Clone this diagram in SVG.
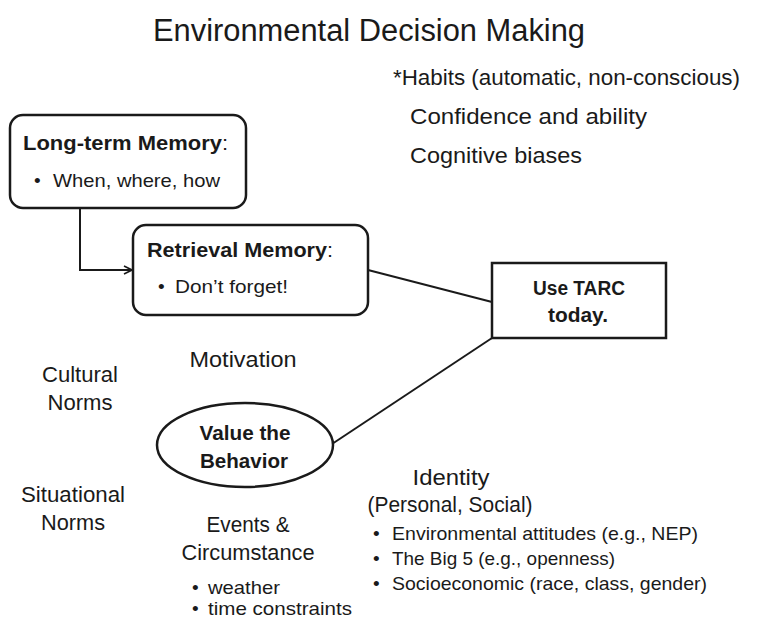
<svg xmlns="http://www.w3.org/2000/svg" width="774" height="621" viewBox="0 0 774 621">
  <defs>
    <marker id="arrow" viewBox="0 0 10 10" refX="9" refY="5" markerWidth="10" markerHeight="10" markerUnits="userSpaceOnUse" orient="auto">
      <path d="M1,1 L9,5 L1,9" fill="none" stroke="#1a1a1a" stroke-width="1.6"/>
    </marker>
  </defs>
  <style>
    text { font-family: "Liberation Sans", Arial, sans-serif; fill: #1a1a1a; }
    .title { font-size: 31px; }
    .note { font-size: 22px; }
    .label { font-size: 22px; }
    .head { font-size: 20px; font-weight: bold; }
    .bullet { font-size: 19px; }
    .strong { font-size: 20px; font-weight: bold; }
    .box { fill: #ffffff; stroke: #1a1a1a; stroke-width: 2.5; }
    .link { fill: none; stroke: #1a1a1a; stroke-width: 2; }
  </style>
  <rect width="774" height="621" fill="#ffffff"/>

  <text class="title" x="153" y="41" textLength="432" lengthAdjust="spacingAndGlyphs">Environmental Decision Making</text>

  <g id="factors-top">
    <text class="note" x="393" y="85" textLength="347" lengthAdjust="spacingAndGlyphs">*Habits (automatic, non-conscious)</text>
    <text class="note" x="410" y="124" textLength="237" lengthAdjust="spacingAndGlyphs">Confidence and ability</text>
    <text class="note" x="410" y="163" textLength="172" lengthAdjust="spacingAndGlyphs">Cognitive biases</text>
  </g>

  <g id="connectors">
    <path class="link" d="M80,208 V270 H132" marker-end="url(#arrow)"/>
    <line class="link" x1="368" y1="270" x2="492" y2="302"/>
    <line class="link" x1="492" y1="338" x2="332" y2="444" stroke-width="1.6"/>
  </g>

  <g id="long-term-memory">
    <rect class="box" x="10" y="115" width="236" height="93" rx="13"/>
    <text class="head" x="23" y="150" textLength="205" lengthAdjust="spacingAndGlyphs">Long-term Memory<tspan font-weight="normal">:</tspan></text>
    <text class="bullet" x="34" y="187">•</text>
    <text class="bullet" x="53" y="187" textLength="167" lengthAdjust="spacingAndGlyphs">When, where, how</text>
  </g>

  <g id="retrieval-memory">
    <rect class="box" x="133" y="225" width="235" height="90" rx="13"/>
    <text class="head" x="147" y="257" textLength="186" lengthAdjust="spacingAndGlyphs">Retrieval Memory<tspan font-weight="normal">:</tspan></text>
    <text class="bullet" x="158" y="293">•</text>
    <text class="bullet" x="175" y="293" textLength="113" lengthAdjust="spacingAndGlyphs">Don’t forget!</text>
  </g>

  <g id="use-tarc">
    <rect class="box" x="492" y="263" width="174" height="75"/>
    <text class="strong" x="579" y="295" text-anchor="middle" textLength="92" lengthAdjust="spacingAndGlyphs">Use TARC</text>
    <text class="strong" x="578" y="322" text-anchor="middle" textLength="60" lengthAdjust="spacingAndGlyphs">today.</text>
  </g>

  <g id="value-behavior">
    <ellipse class="box" cx="245" cy="445" rx="88" ry="42" stroke-width="2"/>
    <text class="strong" x="245" y="440" text-anchor="middle" textLength="91" lengthAdjust="spacingAndGlyphs">Value the</text>
    <text class="strong" x="244" y="468" text-anchor="middle" textLength="88" lengthAdjust="spacingAndGlyphs">Behavior</text>
  </g>

  <g id="motivation">
    <text class="label" x="243" y="367" text-anchor="middle" textLength="107" lengthAdjust="spacingAndGlyphs">Motivation</text>
  </g>

  <g id="cultural-norms">
    <text class="label" x="80" y="382" text-anchor="middle" textLength="76" lengthAdjust="spacingAndGlyphs">Cultural</text>
    <text class="label" x="80" y="410" text-anchor="middle" textLength="65" lengthAdjust="spacingAndGlyphs">Norms</text>
  </g>

  <g id="situational-norms">
    <text class="label" x="73" y="502" text-anchor="middle" textLength="104" lengthAdjust="spacingAndGlyphs">Situational</text>
    <text class="label" x="73" y="530" text-anchor="middle" textLength="64" lengthAdjust="spacingAndGlyphs">Norms</text>
  </g>

  <g id="events">
    <text class="label" x="248" y="532" text-anchor="middle" textLength="83" lengthAdjust="spacingAndGlyphs">Events &amp;</text>
    <text class="label" x="248" y="560" text-anchor="middle" textLength="133" lengthAdjust="spacingAndGlyphs">Circumstance</text>
    <text class="bullet" x="192" y="594">•</text>
    <text class="bullet" x="208" y="594" textLength="72" lengthAdjust="spacingAndGlyphs">weather</text>
    <text class="bullet" x="192" y="615">•</text>
    <text class="bullet" x="208" y="615" textLength="144" lengthAdjust="spacingAndGlyphs">time constraints</text>
  </g>

  <g id="identity">
    <text class="label" x="451" y="485" text-anchor="middle" textLength="77" lengthAdjust="spacingAndGlyphs">Identity</text>
    <text class="label" x="450" y="512" text-anchor="middle" textLength="165" lengthAdjust="spacingAndGlyphs">(Personal, Social)</text>
    <text class="bullet" x="373" y="540">•</text>
    <text class="bullet" x="392" y="540" textLength="306" lengthAdjust="spacingAndGlyphs">Environmental attitudes (e.g., NEP)</text>
    <text class="bullet" x="373" y="565">•</text>
    <text class="bullet" x="392" y="565" textLength="223" lengthAdjust="spacingAndGlyphs">The Big 5 (e.g., openness)</text>
    <text class="bullet" x="373" y="590">•</text>
    <text class="bullet" x="392" y="590" textLength="315" lengthAdjust="spacingAndGlyphs">Socioeconomic (race, class, gender)</text>
  </g>
</svg>
